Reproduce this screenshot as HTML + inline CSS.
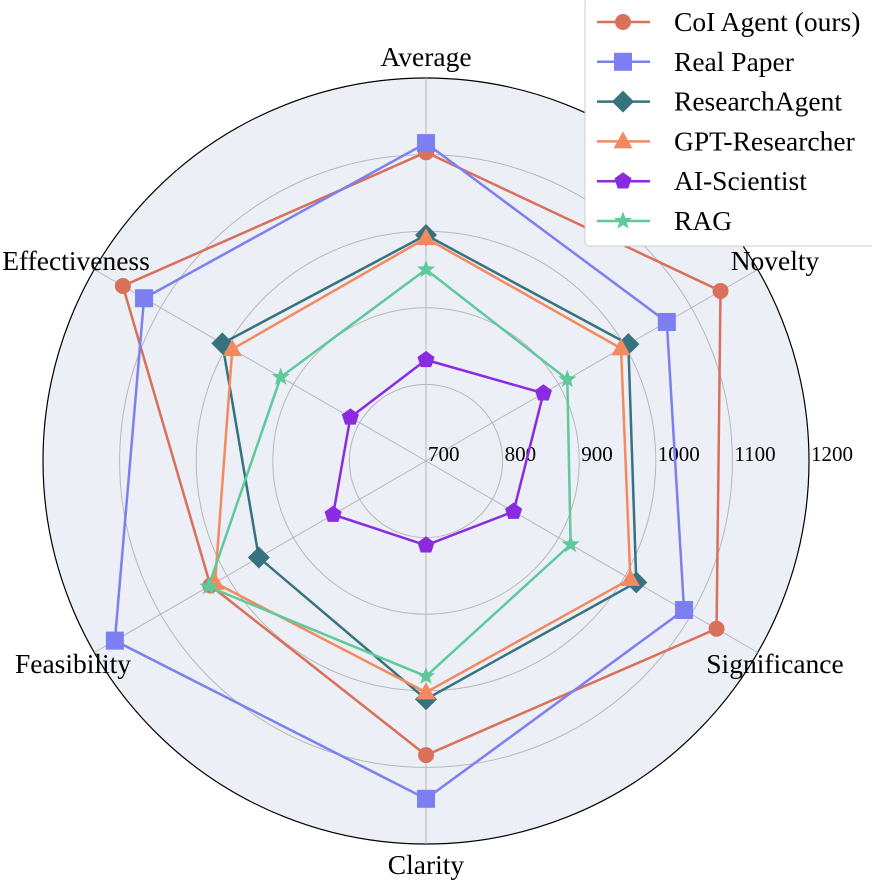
<!DOCTYPE html>
<html><head><meta charset="utf-8"><style>
html,body{margin:0;padding:0;background:#fff}
svg{display:block;font-family:"Liberation Serif",serif}
</style></head><body>
<svg id="chart" width="872" height="880" viewBox="0 0 872 880"></svg>
<script>
const axes=["Average","Novelty","Significance","Clarity","Feasibility","Effectiveness"];
const tickLabels=["700","800","900","1000","1100","1200"];
const seriesNames=["CoI Agent (ours)","Real Paper","ResearchAgent","GPT-Researcher","AI-Scientist","RAG"];
const coiValues=[1103,1144,1138,1084,1025,1157];
const realValues=[1115,1063,1089,1141,1169,1125];
const researchAgentValues=[995,1005,1017,1011,952,1007];
const gptValues=[991,994,1008,1002,1018,992];
const aiScientistValues=[832,877,832,810,840,814];
const ragValues=[950,913,918,981,1028,919];
const allSeries=[coiValues,realValues,researchAgentValues,gptValues,aiScientistValues,ragValues];
const colors=["#d9705a","#7b7ff0","#36737f","#f4895f","#8a2be2","#5ec99b"];
const markers=["circle","square","diamond","triangle","pentagon","star"];
const NS="http://www.w3.org/2000/svg";
const svg=document.getElementById("chart");
const cx=426,cy=461,R=383,rMin=700,rMax=1200;
function rScale(v){return (v-rMin)/(rMax-rMin)*R;}
function ang(i){return Math.PI/2 - i*Math.PI/3;}
function pt(i,v){const r=rScale(v),a=ang(i);return [cx+r*Math.cos(a),cy-r*Math.sin(a)];}
function mk(tag,attrs,parent){const e=document.createElementNS(NS,tag);for(const k in attrs)e.setAttribute(k,attrs[k]);(parent||svg).appendChild(e);return e;}
const bg=mk("circle",{cx:cx,cy:cy,r:R,fill:"#eceff6",stroke:"#000","stroke-width":1.2});


const grid=mk("g",{});


tickLabels.forEach((t,k)=>{
  const v=+t;
  if(v>rMin && v<rMax){
    const c=mk("circle",{cx:cx,cy:cy,r:rScale(v),fill:"none",stroke:"#b8b8b8","stroke-width":1},grid);
    
    
  }
});
axes.forEach((a,i)=>{
  const p=pt(i,rMax);
  const l=mk("line",{x1:cx,y1:cy,x2:p[0],y2:p[1],stroke:"#b8b8b8","stroke-width":1},grid);
  
  
});
tickLabels.forEach((t)=>{
  const x=cx+rScale(+t)+2;
  const tx=mk("text",{x:x,y:461,"font-size":21,fill:"#000"});
  tx.textContent=t;
  
  
});
const labelPos=[[426,66,"middle"],[775,270,"middle"],[775,673,"middle"],[426,874,"middle"],[73,673,"middle"],[76,270,"middle"]];
axes.forEach((a,i)=>{
  const tx=mk("text",{x:labelPos[i][0],y:labelPos[i][1],"text-anchor":labelPos[i][2],"font-size":27.5,fill:"#000"});
  tx.textContent=a;
  
  
});
function marker(type,x,y,color,parent,s){
  s=s||1;let e;
  if(type==="circle") e=mk("circle",{cx:x,cy:y,r:8*s,fill:color},parent);
  else if(type==="square") e=mk("rect",{x:x-9*s,y:y-9*s,width:18*s,height:18*s,fill:color},parent);
  else{
    let pts=[];
    if(type==="diamond") pts=[[0,-11],[11,0],[0,11],[-11,0]];
    else if(type==="triangle") pts=[[0,-10],[9.5,7],[-9.5,7]];
    else if(type==="pentagon"){for(let k=0;k<5;k++){const a=-Math.PI/2+k*2*Math.PI/5;pts.push([9*Math.cos(a),9*Math.sin(a)]);}}
    else if(type==="star"){for(let k=0;k<10;k++){const a=-Math.PI/2+k*Math.PI/5;const r=k%2?4:9.5;pts.push([r*Math.cos(a),r*Math.sin(a)]);}}
    e=mk("polygon",{points:pts.map(p=>(x+p[0]*s)+","+(y+p[1]*s)).join(" "),fill:color},parent);
  }
  return e;
}
allSeries.forEach((vals,si)=>{
  const g=mk("g",{});
  
  
  const pts=vals.map((v,i)=>pt(i,v));
  const poly=mk("polygon",{points:pts.map(p=>p.join(",")).join(" "),fill:"none",stroke:colors[si],"stroke-width":2.5},g);
  
  
  pts.forEach((p,i)=>{
    const m=marker(markers[si],p[0],p[1],colors[si],g);
    
    
  });
});
const lg=mk("g",{});


const lbox=mk("rect",{x:585,y:-2,width:290,height:248,rx:4,fill:"#fff",stroke:"#ccc","stroke-width":1},lg);


seriesNames.forEach((n,si)=>{
  const y=22+si*39.8;
  const e=mk("g",{},lg);
  
  
  mk("line",{x1:597,y1:y,x2:650,y2:y,stroke:colors[si],"stroke-width":2.5},e);
  marker(markers[si],623,y,colors[si],e);
  const t=mk("text",{x:674,y:y+9,"font-size":27.5,fill:"#000"},e);
  t.textContent=n;
});
</script>
</body></html>
